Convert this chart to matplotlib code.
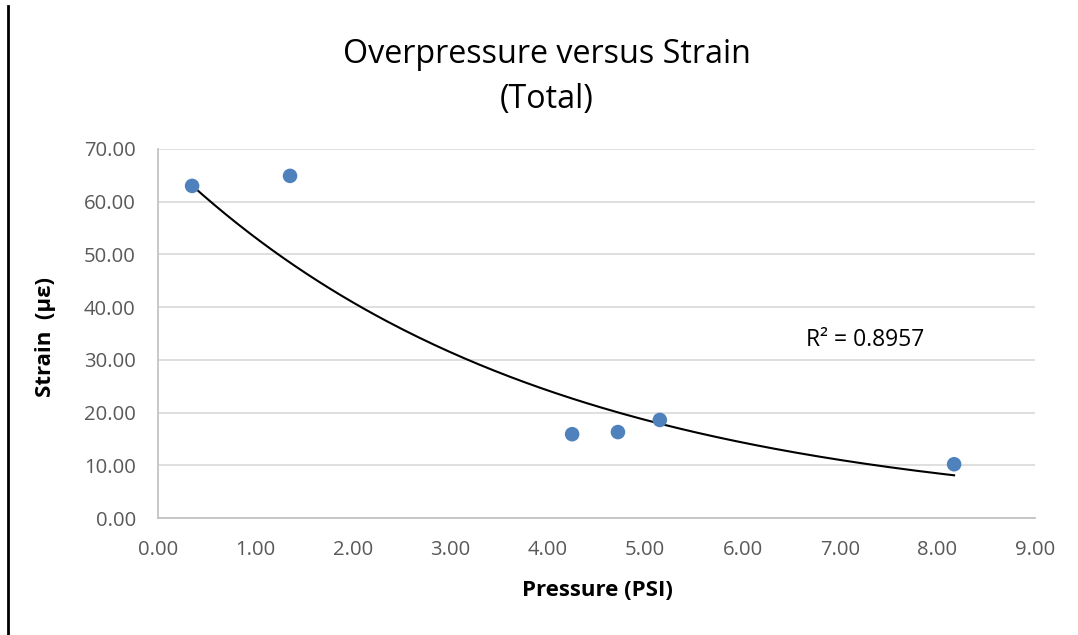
import numpy as np
import matplotlib
matplotlib.use("Agg")
import matplotlib.pyplot as plt
from matplotlib.lines import Line2D

plt.rcParams['font.family'] = ['Open Sans', 'DejaVu Sans']

pressure = [0.35, 1.355, 4.25, 4.72, 5.15, 8.17]
strain = [63.0, 64.9, 15.9, 16.3, 18.6, 10.2]
x_ticks = [0, 1, 2, 3, 4, 5, 6, 7, 8, 9]
y_ticks = [0, 10, 20, 30, 40, 50, 60, 70]
title = "Overpressure versus Strain\n(Total)"
r2_text = "R² = 0.8957"

fig = plt.figure(figsize=(10.78, 6.35), dpi=100)
L, R, T, B = 158, 1035, 149, 518
W, H = 1078, 635
ax = fig.add_axes([L/W, 1-B/H, (R-L)/W, (B-T)/H])

# exponential trendline fit
px = np.array(pressure)
py = np.array(strain)
b, lna = np.polyfit(px, np.log(py), 1)
xt = np.linspace(px.min(), px.max(), 200)
ax.plot(xt, np.exp(lna) * np.exp(b * xt), color='black', lw=1.5, zorder=3)

ax.scatter(pressure, strain, s=110, color='#4F81BD', zorder=4, edgecolors='none')

ax.set_xlim(0, 9)
ax.set_ylim(0, 70)
ax.set_xticks(x_ticks)
ax.set_yticks(y_ticks)
ax.set_xticklabels([f"{v:.2f}" for v in x_ticks])
ax.set_yticklabels([f"{v:.2f}" for v in y_ticks])
ax.tick_params(length=0, labelsize=14.6, colors='#595959')
ax.tick_params(axis='x', pad=16)
ax.tick_params(axis='y', pad=16)
ax.grid(axis='y', color='#D9D9D9', lw=1.2)
ax.set_axisbelow(True)
for s in ['top', 'right']:
    ax.spines[s].set_visible(False)
for s in ['left', 'bottom']:
    ax.spines[s].set_color('#BFBFBF')
    ax.spines[s].set_linewidth(1.2)

ax.set_xlabel("Pressure (PSI)", fontsize=16, fontweight='bold', color='black', va='center')
ax.xaxis.set_label_coords((597-L)/(R-L), (B-590)/(B-T))
ax.set_ylabel("Strain  (\u03bc\u03b5)", fontsize=16, fontweight='bold', color='black', va='center')
ax.yaxis.set_label_coords((45-L)/(R-L), (B-337)/(B-T))

fig.text(547/W, 1-77/H, title, ha='center', va='center', fontsize=23.2, linespacing=1.45)
ax.text(6.65, 33.8, r2_text, fontsize=16.5, color='black', va='center', ha='left')

fig.add_artist(Line2D([8/W, 8/W], [0, 1-6/H], color='black', lw=2, transform=fig.transFigure))

fig.savefig("out.png", dpi=100)
